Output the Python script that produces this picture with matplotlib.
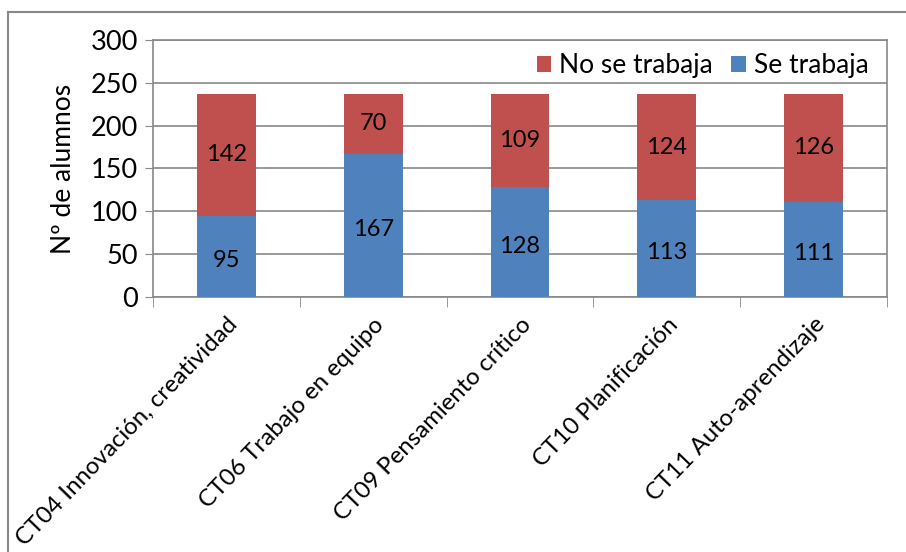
import matplotlib.pyplot as plt
from matplotlib.lines import Line2D
import numpy as np

categories = ['CT04 Innovación, creatividad', 'CT06 Trabajo en equipo',
              'CT09 Pensamiento crítico', 'CT10 Planificación',
              'CT11 Auto-aprendizaje']
se_trabaja = [95, 167, 128, 113, 111]
no_se_trabaja = [142, 70, 109, 124, 126]

blue = '#4F81BD'
red = '#C0504D'
grey = '#888888'

plt.rcParams['font.family'] = ['Lato', 'DejaVu Sans']

fig = plt.figure(figsize=(9.06, 5.52), dpi=100)
ax = fig.add_axes([153/906, 1 - 297/552, (887 - 153)/906, (297 - 40)/552])

x = np.arange(len(categories))
width = 0.40
b1 = ax.bar(x, se_trabaja, width=width, color=blue, label='Se trabaja', zorder=3)
b2 = ax.bar(x, no_se_trabaja, width=width, bottom=se_trabaja, color=red,
            label='No se trabaja', zorder=3)

for i in range(len(x)):
    ax.text(x[i], se_trabaja[i] / 2 - 5, str(se_trabaja[i]), ha='center', va='center',
            fontsize=17, zorder=4)
    ax.text(x[i], se_trabaja[i] + no_se_trabaja[i] / 2, str(no_se_trabaja[i]),
            ha='center', va='center', fontsize=17, zorder=4)

ax.set_xlim(-0.5, len(x) - 0.5)
ax.set_ylim(0, 300)
ax.set_yticks(range(0, 301, 50))
ax.tick_params(axis='y', labelsize=19.5, length=6, color=grey, pad=5)
ax.yaxis.grid(True, color=grey, linewidth=1.2, zorder=0)
ax.set_ylabel('Nº de alumnos', fontsize=19, labelpad=10)

ax.set_xticks(x)
ax.set_xticklabels(categories, rotation=46, ha='right', va='top',
                   rotation_mode='anchor', fontsize=17.3)
ax.tick_params(axis='x', length=0, pad=12)
ax.set_xticks(np.arange(-0.5, len(x)), minor=True)
ax.tick_params(axis='x', which='minor', length=7, color=grey)

for s in ax.spines.values():
    s.set_color(grey)
    s.set_linewidth(1.2)

handles = [b2, b1]
ax.legend(handles=handles, labels=['No se trabaja', 'Se trabaja'], loc='upper right',
          bbox_to_anchor=(1.0, 1.02), ncol=2, frameon=False, fontsize=19,
          handlelength=0.55, handleheight=0.55, handletextpad=0.3, columnspacing=0.7,
          borderaxespad=0.3)

# outer chart border
fig.add_artist(Line2D([8/906, 8/906], [0, 1 - 12/552], color=grey, linewidth=1.5))
fig.add_artist(Line2D([8/906, 1], [1 - 12/552, 1 - 12/552], color=grey, linewidth=1.5))

fig.savefig('out.png', dpi=100)
